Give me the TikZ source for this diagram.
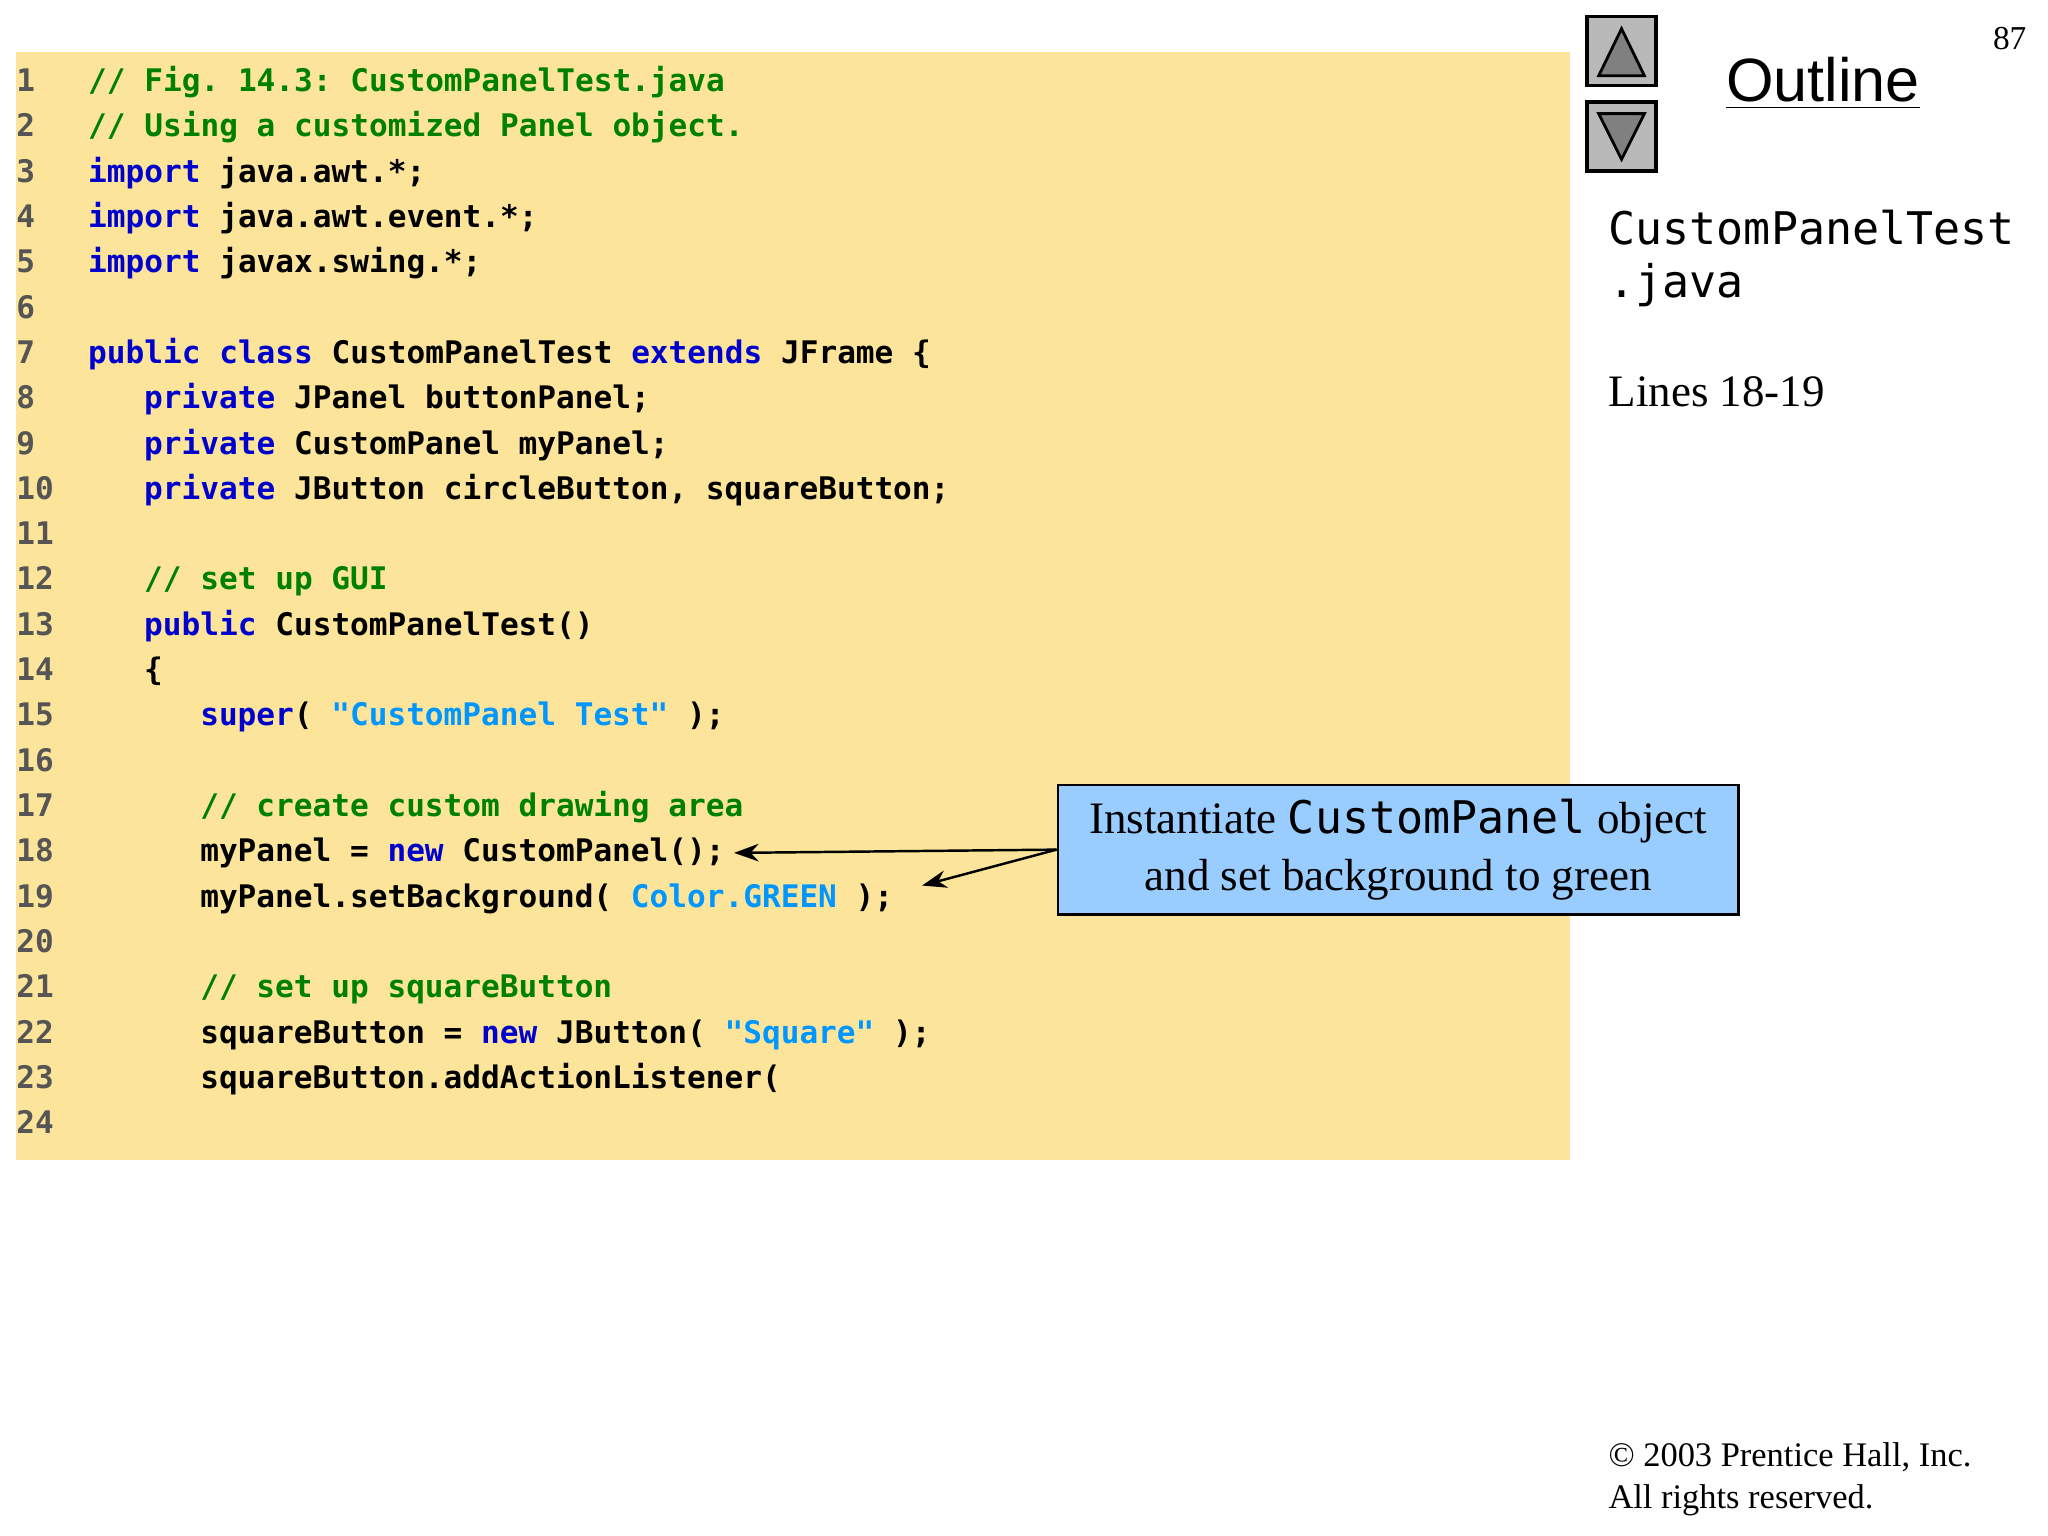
\documentclass[tikz,border=0pt]{standalone}
\usepackage{fontspec}
\setmainfont{Liberation Serif}
\newfontfamily\codefont{DejaVu Sans Mono}
\newfontfamily\outfont{Liberation Sans}
\usetikzlibrary{arrows.meta}
\definecolor{bgy}{RGB}{252,229,154}
\definecolor{cmtc}{RGB}{0,128,0}
\definecolor{kwc}{RGB}{0,0,205}
\definecolor{strc}{RGB}{0,150,255}
\definecolor{lnc}{RGB}{85,85,85}
\definecolor{callc}{RGB}{153,204,255}
\newcommand{\kw}[1]{\textcolor{kwc}{#1}}
\newcommand{\cmt}[1]{\textcolor{cmtc}{#1}}
\newcommand{\str}[1]{\textcolor{strc}{#1}}
\frenchspacing
\begin{document}
\begin{tikzpicture}[x=0.013061cm,y=-0.013061cm,
  code/.style={anchor=base west,inner sep=0pt,font=\codefont\bfseries\fontsize{8.85}{10}\selectfont},
  ln/.style={code,text=lnc}]
\useasboundingbox (0,0) rectangle (1568,1176);
\fill[bgy] (12,40) rectangle (1202,888);
\foreach \i in {1,...,24}{\node[ln] (n\i) at (12,{70+34.7*(\i-1)}) {\i};}
\def\L#1#2#3{\node[code] (c#1) at ({67+14.3*#2},{70+34.7*(#1-1)}) {#3};}
\L{1}{0}{\cmt{// Fig. 14.3: CustomPanelTest.java}}
\L{2}{0}{\cmt{// Using a customized Panel object.}}
\L{3}{0}{\kw{import} java.awt.*;}
\L{4}{0}{\kw{import} java.awt.event.*;}
\L{5}{0}{\kw{import} javax.swing.*;}
\L{7}{0}{\kw{public} \kw{class} CustomPanelTest \kw{extends} JFrame \{}
\L{8}{3}{\kw{private} JPanel buttonPanel;}
\L{9}{3}{\kw{private} CustomPanel myPanel;}
\L{10}{3}{\kw{private} JButton circleButton, squareButton;}
\L{12}{3}{\cmt{// set up GUI}}
\L{13}{3}{\kw{public} CustomPanelTest()}
\L{14}{3}{\{}
\L{15}{6}{\kw{super}( \str{"CustomPanel Test"} );}
\L{17}{6}{\cmt{// create custom drawing area}}
\L{18}{6}{myPanel = \kw{new} CustomPanel();}
\L{19}{6}{myPanel.setBackground( \str{Color.GREEN} );}
\L{21}{6}{\cmt{// set up squareButton}}
\L{22}{6}{squareButton = \kw{new} JButton( \str{"Square"} );}
\L{23}{6}{squareButton.addActionListener(}
% callout
\node[draw,fill=callc,line width=0.8pt,minimum width=521*0.013061cm,minimum height=99*0.013061cm,align=center,
  font=\fontsize{12.8}{16}\selectfont,inner sep=0pt] (call) at (1070.5,650.5)
  {Instantiate {\codefont CustomPanel} object\\and set background to green};
\coordinate (t18) at (562,653);
\coordinate (t19) at (706,678);
\draw[-{Stealth[length=7pt,width=5pt]},line width=0.7pt] (call.west) -- (t18);
\draw[-{Stealth[length=7pt,width=5pt]},line width=0.7pt] (call.west) -- (t19);
% nav buttons
\node[draw,fill=gray!55,minimum size=53*0.013061cm,inner sep=0pt,line width=1pt] (up) at (1241.5,39) {};
\node[draw,fill=gray!55,minimum size=53*0.013061cm,inner sep=0pt,line width=1pt] (dn) at (1241.5,104.5) {};
\draw[fill=gray,line width=0.8pt] (1224,58) -- (1259,58) -- (1241.5,22) -- cycle;
\draw[fill=gray,line width=0.8pt] (1224,87) -- (1259,87) -- (1241.5,122) -- cycle;
\node[anchor=base west,inner sep=0pt,font=\outfont\fontsize{17.4}{20}\selectfont] (out) at (1321,78) {\underline{Outline}};
\node[anchor=base east,inner sep=0pt,font=\fontsize{9.5}{11}\selectfont] (pg) at (1552,38) {87};
\node[anchor=base west,inner sep=0pt,font=\codefont\fontsize{12.8}{15}\selectfont] (fn1) at (1231,187) {CustomPanelTest};
\node[anchor=base west,inner sep=0pt,font=\codefont\fontsize{12.8}{15}\selectfont] (fn2) at (1231,228) {.java};
\node[anchor=base west,inner sep=0pt,font=\fontsize{12.8}{15}\selectfont] (lines) at (1231,311) {Lines 18-19};
\node[anchor=base west,inner sep=0pt,font=\fontsize{9.8}{12}\selectfont] (cp1) at (1231,1123) {© 2003 Prentice Hall, Inc.};
\node[anchor=base west,inner sep=0pt,font=\fontsize{9.8}{12}\selectfont] (cp2) at (1231,1155) {All rights reserved.};
\end{tikzpicture}
\end{document}
